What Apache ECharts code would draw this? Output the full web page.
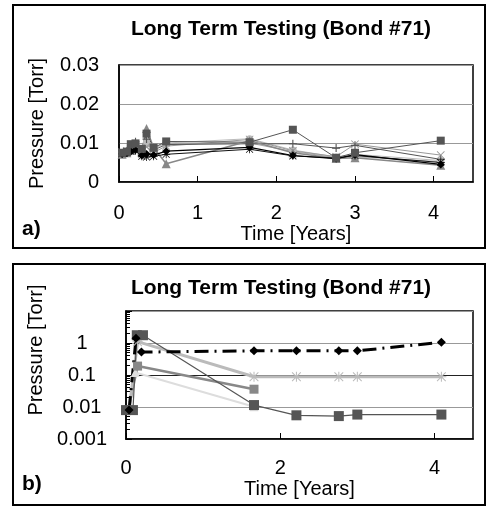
<!DOCTYPE html>
<html>
<head>
<meta charset="utf-8">
<style>
  html, body { margin: 0; padding: 0; background: #fff; }
  #main { width: 487px; height: 506px; }
</style>
<script src="https://cdn.jsdelivr.net/npm/echarts@6/dist/echarts.min.js"></script>
</head>
<body>
<div id="main"></div>
<script>
// ---- data: panel a) (linear) ----
var timeA = [0.04, 0.1, 0.15, 0.21, 0.29, 0.35, 0.44, 0.6, 1.66, 2.21, 2.76, 3.0, 4.09];
var a1 = [0.0075, 0.0078, 0.0097, 0.0099, 0.0085, 0.0124, 0.0088, 0.0104, 0.0102, 0.0134, 0.0062, 0.0075, 0.0106];
var a2 = [0.0072, 0.0074, 0.0078, 0.0082, 0.0068, 0.0072, 0.0069, 0.0079, 0.0089, 0.0068, 0.0060, 0.0070, 0.0045];
var a3 = [0.0071, 0.0075, 0.0082, 0.0090, 0.0080, 0.0137, 0.0088, 0.0047, 0.0106, 0.0075, 0.0060, 0.0062, 0.0043];
var a4 = [0.0074, 0.0080, 0.0095, 0.0103, 0.0075, 0.0110, 0.0082, 0.0096, 0.0098, 0.0098, 0.0087, 0.0094, 0.0058];
var a5 = [0.0076, 0.0079, 0.0085, 0.0088, 0.0072, 0.0090, 0.0076, 0.0092, 0.0109, 0.0080, 0.0065, 0.0097, 0.0069];
var a6 = [0.0073, 0.0076, 0.0079, 0.0080, 0.0066, 0.0064, 0.0066, 0.0071, 0.0084, 0.0067, 0.0061, 0.0068, 0.0050];
var a7 = [0.0075, 0.0077, 0.0088, 0.0092, 0.0078, 0.0102, 0.0085, 0.0100, 0.0111, 0.0082, 0.0064, 0.0071, 0.0055];
var a8 = [0.0074, 0.0076, 0.0090, 0.0094, 0.0082, 0.0098, 0.0090, 0.0099, 0.0100, 0.0078, 0.0063, 0.0065, 0.0052];

// ---- data: panel b) (log) ----
var tB1 = [0.04, 0.13, 0.2, 1.66, 2.21, 2.76, 3.0, 4.09];
var pB1 = [0.008, 1.4, 0.52, 0.57, 0.57, 0.57, 0.57, 1.05];
var tB2 = [0, 0.09, 0.14, 0.22, 1.66, 2.21, 2.76, 3.0, 4.09];
var pB2 = [0.008, 0.008, 1.75, 1.75, 0.0115, 0.0055, 0.0052, 0.0058, 0.0058];
var tB3 = [0.04, 0.15, 1.66, 2.21, 2.76, 3.0, 4.09];
var pB3 = [0.008, 1.1, 0.088, 0.088, 0.088, 0.088, 0.088];
var tB4 = [0.03, 0.15, 1.66];
var pB4 = [0.008, 0.19, 0.036];
var tB5 = [0.02, 0.12, 1.66];
var pB5 = [0.008, 0.12, 0.0102];

var FONT = '"Liberation Sans", Arial, sans-serif';

var plusPath = 'path://M4.3,0H5.7V4.3H10V5.7H5.7V10H4.3V5.7H0V4.3H4.3Z';
var crossPath = 'path://M1,0.3L9.7,9L9,9.7L0.3,1Z M9,0.3L9.7,1L1,9.7L0.3,9Z';
var starPath = 'path://M4.5,0H5.5V10H4.5Z M0,4.5H10V5.5H0Z M1,0.3L9.7,9L9,9.7L0.3,1Z M9,0.3L9.7,1L1,9.7L0.3,9Z';

function pairs(xs, ys) {
    return xs.map(function (x, i) { return [x, ys[i]]; });
}

function lineA(data, color, symbol, size, width) {
    return {
        type: 'line', xAxisIndex: 0, yAxisIndex: 0,
        data: pairs(timeA, data),
        symbol: symbol, symbolSize: size,
        lineStyle: { color: color, width: width },
        itemStyle: { color: color },
        animation: false
    };
}

function lineB(xs, ys, color, symbol, size, width, type) {
    return {
        type: 'line', xAxisIndex: 1, yAxisIndex: 1,
        data: pairs(xs, ys),
        symbol: symbol, symbolSize: size,
        lineStyle: { color: color, width: width, type: type || 'solid' },
        itemStyle: { color: color },
        animation: false
    };
}

var myChart = echarts.init(document.getElementById('main'));

var option = {
    backgroundColor: '#fff',
    textStyle: { fontFamily: FONT, color: '#000' },
    title: [
        {
            text: 'Long Term Testing (Bond #71)',
            left: 276, top: 14, textAlign: 'center',
            textStyle: { fontSize: 21, fontWeight: 'bold', color: '#000', fontFamily: FONT }
        },
        {
            text: 'Long Term Testing (Bond #71)',
            left: 276, top: 273, textAlign: 'center',
            textStyle: { fontSize: 21, fontWeight: 'bold', color: '#000', fontFamily: FONT }
        }
    ],
    graphic: [
        { type: 'rect', shape: { x: 13, y: 5, width: 472, height: 243 },
          style: { fill: 'none', stroke: '#000', lineWidth: 2 } },
        { type: 'rect', shape: { x: 13, y: 264, width: 472, height: 241 },
          style: { fill: 'none', stroke: '#000', lineWidth: 2 } },
        { type: 'text', left: 22, top: 219,
          style: { text: 'a)', font: 'bold 21px ' + FONT, fill: '#000' } },
        { type: 'text', left: 22, top: 474,
          style: { text: 'b)', font: 'bold 21px ' + FONT, fill: '#000' } }
    ],
    grid: [
        { left: 119, top: 65, width: 354, height: 117, show: true,
          borderColor: '#000', borderWidth: 1.5, backgroundColor: 'transparent' },
        { left: 126, top: 311, width: 347, height: 128, show: true,
          borderColor: '#000', borderWidth: 1.5, backgroundColor: 'transparent' }
    ],
    xAxis: [
        {
            gridIndex: 0, type: 'value', min: 0, max: 4.5, interval: 1,
            name: 'Time [Years]', nameLocation: 'middle', nameGap: 42,
            nameTextStyle: { fontSize: 20, color: '#000' },
            axisLine: { lineStyle: { color: '#000', width: 1.5 } },
            axisTick: { inside: true, length: 6, lineStyle: { color: '#000' } },
            axisLabel: { fontSize: 20, color: '#000', margin: 21, showMaxLabel: false },
            splitLine: { show: false }
        },
        {
            gridIndex: 1, type: 'value', min: 0, max: 4.5, interval: 2,
            name: 'Time [Years]', nameLocation: 'middle', nameGap: 40,
            nameTextStyle: { fontSize: 20, color: '#000' },
            axisLine: { lineStyle: { color: '#000', width: 1.5 } },
            axisTick: { inside: true, length: 6, lineStyle: { color: '#000' } },
            axisLabel: { fontSize: 20, color: '#000', margin: 19, showMaxLabel: false },
            splitLine: { show: false }
        }
    ],
    yAxis: [
        {
            gridIndex: 0, type: 'value', min: 0, max: 0.03, interval: 0.01,
            name: 'Pressure [Torr]', nameLocation: 'middle', nameGap: 72,
            nameTextStyle: { fontSize: 20, color: '#000' },
            axisLine: { lineStyle: { color: '#000', width: 1.5 } },
            axisTick: { show: false },
            axisLabel: { fontSize: 20, color: '#000', margin: 20 },
            splitLine: { lineStyle: { color: '#999', width: 1 } }
        },
        {
            gridIndex: 1, type: 'log', min: 0.001, max: 10, logBase: 10,
            name: 'Pressure [Torr]', nameLocation: 'middle', nameGap: 79,
            nameTextStyle: { fontSize: 20, color: '#000', padding: [0, 0, 0, 50] },
            axisLine: { lineStyle: { color: '#000', width: 1.5 } },
            axisTick: { inside: true, length: 6, lineStyle: { color: '#000' } },
            minorTick: { show: true, splitNumber: 9, length: 4, lineStyle: { color: '#000' } },
            axisLabel: {
                fontSize: 20, color: '#000', margin: 44, align: 'center',
                formatter: function (v) { return v > 5 ? '' : String(parseFloat(v.toPrecision(3))); }
            },
            splitLine: { lineStyle: { color: ['#999', '#999', '#222', '#999', '#999'], width: 1 } }
        }
    ],
    series: [
        lineA(a8, '#aaa', 'rect', 7, 1),
        lineA(a7, '#bbb', 'circle', 7, 1),
        lineA(a5, '#999', crossPath, 8, 1),
        lineA(a4, '#555', plusPath, 8, 1),
        lineA(a3, '#888', 'triangle', 9, 1.5),
        lineA(a6, '#111', starPath, 8, 1),
        lineA(a2, '#000', 'diamond', 8, 1.2),
        lineA(a1, '#555', 'rect', 8, 1),

        lineB(tB5, pB5, '#ddd', 'triangle', 9, 2),
        lineB(tB4, pB4, '#888', 'rect', 9, 2.5),
        lineB(tB3, pB3, '#bbb', starPath, 10, 3),
        lineB(tB2, pB2, '#555', 'rect', 10, 1.2),
        lineB(tB1, pB1, '#000', 'diamond', 9, 3, [14, 6, 2, 6])
    ]
};

option && myChart.setOption(option);

window.addEventListener('resize', myChart.resize);
</script>
</body>
</html>
